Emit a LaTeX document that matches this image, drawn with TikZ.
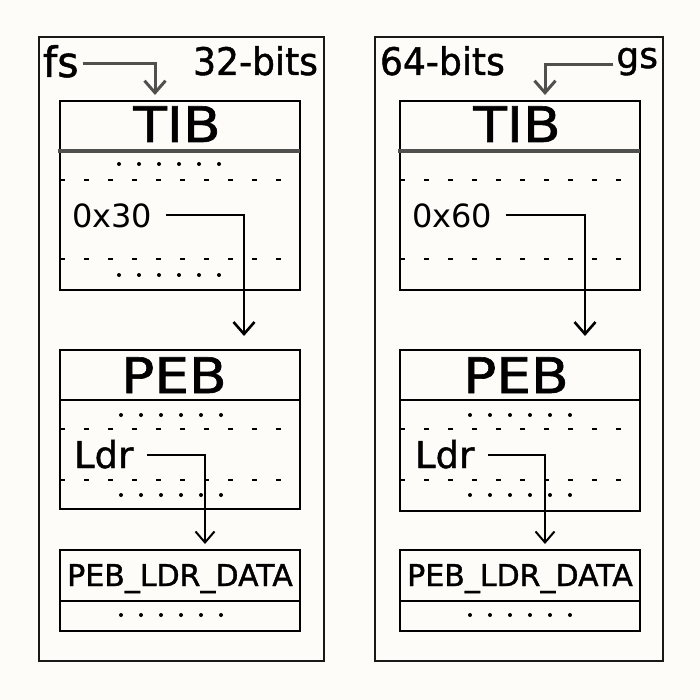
\documentclass[tikz,border=0pt]{standalone}
\usepackage{fontspec}
\setmainfont{DejaVu Sans}
\newfontfamily\comic[FakeBold=1.2]{DejaVu Sans}
\usetikzlibrary{arrows.meta}
\definecolor{bg}{RGB}{253,252,248}
\definecolor{lgray}{RGB}{80,80,78}
\begin{document}
\begin{tikzpicture}[x=1pt,y=-1pt,
  panel/.style={draw=black!90, line width=2.8pt, inner sep=0pt, outer sep=0pt, anchor=north west},
  box/.style={draw=black, line width=2.7pt, inner sep=0pt, outer sep=0pt, anchor=north west, minimum width=240pt},
  txt/.style={inner sep=0pt, outer sep=0pt, text=black},
  bigfont/.style={txt, xscale=1.12, font=\comic\fontsize{49}{49}\selectfont},
  labfont/.style={txt, xscale=0.95, font=\comic\fontsize{38}{38}\selectfont},
  offfont/.style={txt, font=\fontsize{32}{32}\selectfont},
  ldrfont/.style={txt, font=\comic\fontsize{37}{37}\selectfont},
  datafont/.style={txt, font=\comic\fontsize{30}{30}\selectfont},
  divider/.style={draw=black, line width=2.7pt},
  gdivider/.style={draw=lgray, line width=3.2pt},
  dashline/.style={draw=black, line width=1.8pt, dash pattern=on 5pt off 19pt},
  conn/.style={draw=black, line width=2.6pt, -{Straight Barb[length=12pt,width=21pt]}},
  thinconn/.style={draw=black, line width=2pt, -{Straight Barb[length=11pt,width=19pt]}},
  gconn/.style={draw=lgray, line width=3pt, -{Straight Barb[length=12pt,width=21pt]}},
  dot/.style={fill=black}
]
\useasboundingbox[fill=bg] (0,0) rectangle (700,700);

% ---------- panels ----------
\node[panel, minimum width=285pt, minimum height=624pt] (panelL) at (39,37) {};
\node[panel, minimum width=288pt, minimum height=624pt] (panelR) at (375,37) {};

% ---------- left column ----------
\node[box, minimum height=189pt] (tibL) at (60,101) {};
\node[box, minimum height=159pt] (pebL) at (60,350) {};
\node[box, minimum height=81pt] (dataL) at (60,550) {};

\draw[gdivider] (58,151) -- (tibL.east |- 0,151);
\draw[divider] (pebL.west |- 0,400) -- (pebL.east |- 0,400);
\draw[divider] (dataL.west |- 0,601) -- (dataL.east |- 0,601);

\node[bigfont, anchor=base] (tibLt) at (177,142) {TIB};
\node[bigfont, anchor=base] (pebLt) at (174,393) {PEB};
\node[datafont, anchor=base] (dataLt) at (180,586) {PEB\_LDR\_DATA};

\node[labfont, anchor=base west, xscale=1.02, font=\comic\fontsize{42}{42}\selectfont] (fs) at (43,77) {fs};
\node[labfont, anchor=base east] (b32) at (318,75) {32-bits};
\node[offfont, anchor=base west] (o30) at (72,228) {0x30};
\node[ldrfont, anchor=base west] (ldrL) at (74,468) {Ldr};

\draw[dashline] (60,180) -- (282,180);
\draw[dashline] (60,259) -- (282,259);
\draw[dashline] (60,429) -- (282,429);
\draw[dashline] (60,480) -- (282,480);

\foreach \i in {0,...,5} {
  \fill[dot] (119+20*\i,164) circle (2pt);
  \fill[dot] (119+20*\i,275) circle (2pt);
  \fill[dot] (121+20*\i,415) circle (2pt);
  \fill[dot] (121+20*\i,495) circle (2pt);
  \fill[dot] (121+20*\i,615) circle (2pt);
}

\coordinate (fsC) at (155,64);
\draw[gconn, shorten >=6pt] ([xshift=4pt]fs.east |- fsC) -- (fsC) -- (fsC |- tibL.north);
\coordinate (o30C) at (244,215);
\draw[conn, shorten >=14pt] ([xshift=14pt]o30.east |- o30C) -- (o30C) -- (o30C |- pebL.north);
\coordinate (ldrLC) at (205,455);
\draw[thinconn, shorten >=6pt] ([xshift=14pt]ldrL.east |- ldrLC) -- (ldrLC) -- (ldrLC |- dataL.north);

% ---------- right column ----------
\node[box, minimum height=189pt] (tibR) at (400,101) {};
\node[box, minimum height=161pt] (pebR) at (400,350) {};
\node[box, minimum height=81pt] (dataR) at (400,550) {};

\draw[gdivider] (398,151) -- (tibR.east |- 0,151);
\draw[divider] (pebR.west |- 0,400) -- (pebR.east |- 0,400);
\draw[divider] (dataR.west |- 0,601) -- (dataR.east |- 0,601);

\node[bigfont, anchor=base] (tibRt) at (517,142) {TIB};
\node[bigfont, anchor=base] (pebRt) at (516,393) {PEB};
\node[datafont, anchor=base] (dataRt) at (520,586) {PEB\_LDR\_DATA};

\node[labfont, anchor=base west] (b64) at (380,75) {64-bits};
\node[txt, anchor=base east, font=\comic\fontsize{36}{36}\selectfont] (gs) at (658,68) {gs};
\node[offfont, anchor=base west] (o60) at (412,228) {0x60};
\node[ldrfont, anchor=base west] (ldrR) at (415,468) {Ldr};

\draw[dashline] (400,180) -- (622,180);
\draw[dashline] (400,259) -- (622,259);
\draw[dashline] (400,429) -- (622,429);
\draw[dashline] (400,480) -- (622,480);

\foreach \i in {0,...,5} {
  \fill[dot] (470+20*\i,415) circle (2pt);
  \fill[dot] (470+20*\i,495) circle (2pt);
  \fill[dot] (470+20*\i,615) circle (2pt);
}

\coordinate (gsC) at (545,65);
\draw[gconn, shorten >=6pt] ([xshift=-3pt]gs.west |- gsC) -- (gsC) -- (gsC |- tibR.north);
\coordinate (o60C) at (585,215);
\draw[conn, shorten >=14pt] ([xshift=14pt]o60.east |- o60C) -- (o60C) -- (o60C |- pebR.north);
\coordinate (ldrRC) at (545,455);
\draw[thinconn, shorten >=6pt] ([xshift=14pt]ldrR.east |- ldrRC) -- (ldrRC) -- (ldrRC |- dataR.north);
\end{tikzpicture}
\end{document}
